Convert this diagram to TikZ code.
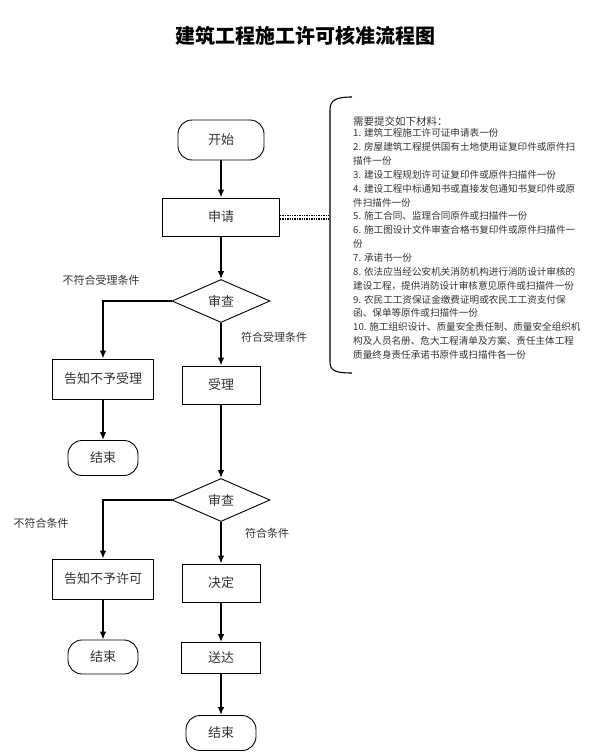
\documentclass[tikz,border=0pt]{standalone}
\usepackage{fontspec}
\newfontfamily\cjk{Noto Sans CJK SC}
\usepackage{tikz}
\usetikzlibrary{arrows.meta,shapes.geometric}

\begin{document}
\begin{tikzpicture}[
    x=1pt, y=-1pt,
    >={Latex[length=8pt,width=6.5pt]},
    caixa/.style={draw, line width=0.9pt, inner sep=0,
        font=\cjk\fontsize{13}{15}\selectfont, text=black!80},
    capsula/.style={caixa, rounded corners=14pt},
    rombe/.style={caixa, diamond, aspect=2},
    etiqueta/.style={font=\cjk\fontsize{11}{13}\selectfont, text=black!80},
    fletxa/.style={->, line width=1.5pt}
]

\useasboundingbox (0,0) rectangle (597,755);

% Títol
\node[font=\cjk\bfseries\fontsize{20}{22}\selectfont] (titol) at (305,36)
    {建筑工程施工许可核准流程图};

% Columna principal
\node[capsula, minimum width=86pt, minimum height=40pt] (inici) at (221,140) {开始};
\node[caixa, minimum width=117pt, minimum height=38pt] (sollicitud) at (221,217) {申请};
\node[rombe, minimum width=98pt, minimum height=43pt] (revisio1) at (221,301) {审查};
\node[caixa, minimum width=78pt, minimum height=38pt] (admes) at (221,385) {受理};
\node[rombe, minimum width=98pt, minimum height=43pt] (revisio2) at (221,500) {审查};
\node[caixa, minimum width=78pt, minimum height=38pt] (decisio) at (221,583) {决定};
\node[caixa, minimum width=79pt, minimum height=31pt] (lliurament) at (221,658) {送达};
\node[capsula, minimum width=70pt, minimum height=35pt] (final3) at (221,733) {结束};

% Columna esquerra
\node[caixa, minimum width=101pt, minimum height=40pt] (rebuig1) at (103,379) {告知不予受理};
\node[capsula, minimum width=70pt, minimum height=35pt] (final1) at (103,458) {结束};
\node[caixa, minimum width=101pt, minimum height=40pt] (rebuig2) at (103,579) {告知不予许可};
\node[capsula, minimum width=70pt, minimum height=34pt] (final2) at (103,657) {结束};

% Etiquetes
\node[etiqueta] (no1) at (101,280) {不符合受理条件};
\node[etiqueta] (si1) at (274,337) {符合受理条件};
\node[etiqueta] (no2) at (41,523) {不符合条件};
\node[etiqueta] (si2) at (267,533) {符合条件};

% Fletxes
\draw[fletxa] (inici) -- (sollicitud);
\draw[fletxa] (sollicitud) -- (revisio1);
\draw[fletxa] (revisio1) -- (admes);
\draw[fletxa] (revisio1.west) -| (rebuig1.north);
\draw[fletxa] (rebuig1) -- (final1);
\draw[fletxa] (admes) -- (revisio2);
\draw[fletxa] (revisio2) -- (decisio);
\draw[fletxa] (revisio2.west) -| (rebuig2.north);
\draw[fletxa] (rebuig2) -- (final2);
\draw[fletxa] (decisio) -- (lliurament);
\draw[fletxa] (lliurament) -- (final3);

% Clau
\coordinate (clau) at (330,217);
\draw[line width=1.1pt]
    (352,97) .. controls (336,97) and (330,100) .. (330,110)
    -- (330,362) .. controls (330,371) and (336,373) .. (352,373);

% Enllaç puntejat
\draw[densely dotted, line width=1.4pt]
    ([yshift=-1.8pt]sollicitud.east) -- ([yshift=-1.8pt]clau);
\draw[densely dotted, line width=1.4pt]
    ([yshift=1.8pt]sollicitud.east) -- ([yshift=1.8pt]clau);

% Materials
\node[anchor=west, inner sep=0, text=black!80,
    font=\cjk\fontsize{10.5}{12}\selectfont] (capcalera) at (353,121)
    {需要提交如下材料：};
\node[anchor=north west, inner sep=0, align=left, text=black!80,
    font=\cjk\fontsize{9.6}{13.86}\selectfont] (materials) at (353,128.5)
    {1. 建筑工程施工许可证申请表一份\\
     2. 房屋建筑工程提供国有土地使用证复印件或原件扫\\
     描件一份\\
     3. 建设工程规划许可证复印件或原件扫描件一份\\
     4. 建设工程中标通知书或直接发包通知书复印件或原\\
     件扫描件一份\\
     5. 施工合同、监理合同原件或扫描件一份\\
     6. 施工图设计文件审查合格书复印件或原件扫描件一\\
     份\\
     7. 承诺书一份\\
     8. 依法应当经公安机关消防机构进行消防设计审核的\\
     建设工程，提供消防设计审核意见原件或扫描件一份\\
     9. 农民工工资保证金缴费证明或农民工工资支付保\\
     函、保单等原件或扫描件一份\\
     10. 施工组织设计、质量安全责任制、质量安全组织机\\
     构及人员名册、危大工程清单及方案、责任主体工程\\
     质量终身责任承诺书原件或扫描件各一份};

\end{tikzpicture}
\end{document}
